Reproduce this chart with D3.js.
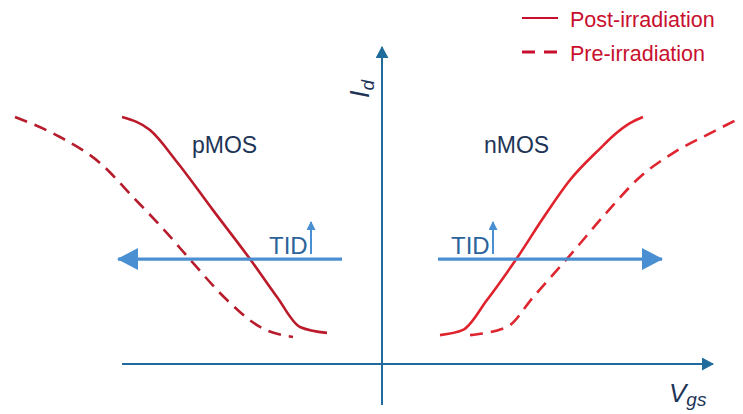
<!DOCTYPE html>
<html>
<head>
<meta charset="utf-8">
<script src="https://cdn.jsdelivr.net/npm/d3@7"></script>
<style>
  body { margin: 0; background: #fff; }
  svg { display: block; }
</style>
</head>
<body>
<div id="chart"></div>
<script>
(function () {

  // Curves (Vgs in arbitrary volts, Id normalised to saturation)
  const pmosPostVgs = [-2.60, -2.32, -2.05, -1.69, -1.32, -1.05, -0.82, -0.55]
  const pmosPostId  = [1.00, 0.947, 0.818, 0.623, 0.425, 0.271, 0.150, 0.126]
  const pmosPreVgs  = [-3.67, -3.22, -2.82, -2.49, -2.15, -1.89, -1.55, -1.22, -0.89]
  const pmosPreId   = [1.00, 0.919, 0.814, 0.676, 0.530, 0.409, 0.259, 0.150, 0.109]
  const nmosPostVgs = [0.58, 0.81, 1.05, 1.35, 1.61, 1.88, 2.18, 2.33, 2.48, 2.61]
  const nmosPostId  = [0.117, 0.138, 0.259, 0.429, 0.590, 0.745, 0.872, 0.930, 0.975, 1.00]
  const nmosPreVgs  = [0.88, 1.25, 1.51, 1.88, 2.25, 2.58, 2.91, 3.31, 3.58]
  const nmosPreId   = [0.117, 0.150, 0.270, 0.440, 0.615, 0.757, 0.854, 0.940, 0.996]

  // TID shift arrows: [from, to] in Vgs, at one Id level
  const tidLevel = 0.425
  const pmosShift = [-0.40, -2.64]
  const nmosShift = [0.56, 2.80]

  // Axis extents
  const vgsAxis = [-2.60, 3.31]
  const idAxis = [-0.166, 1.283]

  const legendLabels = ["Post-irradiation", "Pre-irradiation"]

  const width = 743
  const height = 414

  const x = d3.scaleLinear().domain([-3.82, 3.61]).range([0, width])
  const y = d3.scaleLinear().domain([0, 1]).range([364, 117])

  const svg = d3.select("#chart").append("svg")
      .attr("width", width)
      .attr("height", height)

  const defs = svg.append("defs")
  function marker(id, len, half, color) {
    defs.append("marker")
      .attr("id", id)
      .attr("markerUnits", "userSpaceOnUse")
      .attr("viewBox", `0 ${-half} ${len} ${half * 2}`)
      .attr("refX", len - 1)
      .attr("refY", 0)
      .attr("markerWidth", len)
      .attr("markerHeight", half * 2)
      .attr("orient", "auto")
      .append("path")
      .attr("d", `M0,${-half}L${len},0L0,${half}Z`)
      .attr("fill", color)
  }
  const axisColor = "#1f6b9c"
  const arrowColor = "#4a8fd1"
  marker("axisHead", 12, 6.5, axisColor)
  marker("bigHead", 21, 11, arrowColor)
  marker("smallHead", 9, 4.5, arrowColor)

  // Axes
  svg.append("line")
    .attr("x1", x(vgsAxis[0])).attr("x2", x(vgsAxis[1]))
    .attr("y1", y(0)).attr("y2", y(0))
    .attr("stroke", axisColor).attr("stroke-width", 2)
    .attr("marker-end", "url(#axisHead)")
  svg.append("line")
    .attr("x1", x(0)).attr("x2", x(0))
    .attr("y1", y(idAxis[0])).attr("y2", y(idAxis[1]))
    .attr("stroke", axisColor).attr("stroke-width", 2)
    .attr("marker-end", "url(#axisHead)")

  // Axis labels
  const idLabel = svg.append("text")
    .attr("transform", `translate(${x(0) - 13},98) rotate(-90)`)
    .attr("font-family", "Liberation Sans, Arial, sans-serif")
    .attr("font-style", "italic")
    .attr("font-size", 27)
    .attr("fill", "#1e3557")
  idLabel.append("tspan").text("I")
  idLabel.append("tspan").attr("font-size", 19).attr("dy", 5).text("d")

  const vLabel = svg.append("text")
    .attr("x", 669).attr("y", 402)
    .attr("font-family", "Liberation Sans, Arial, sans-serif")
    .attr("font-style", "italic")
    .attr("font-size", 26)
    .attr("fill", "#1e3557")
  vLabel.append("tspan").text("V")
  vLabel.append("tspan").attr("font-size", 19).attr("dy", 4).text("gs")

  // Curves
  const line = d3.line()
    .x(d => x(d[0]))
    .y(d => y(d[1]))
    .curve(d3.curveMonotoneX)

  const curves = [
    { vgs: pmosPreVgs, id: pmosPreId, color: "#b71c2c", dash: "13,8" },
    { vgs: pmosPostVgs, id: pmosPostId, color: "#bb1a2a", dash: null },
    { vgs: nmosPreVgs, id: nmosPreId, color: "#de2530", dash: "13,8" },
    { vgs: nmosPostVgs, id: nmosPostId, color: "#e0222c", dash: null }
  ]
  svg.selectAll(".curve")
    .data(curves)
    .join("path")
    .attr("class", "curve")
    .attr("d", c => line(d3.zip(c.vgs, c.id)))
    .attr("fill", "none")
    .attr("stroke", c => c.color)
    .attr("stroke-width", 2.6)
    .attr("stroke-dasharray", c => c.dash)

  // TID arrows
  ;[pmosShift, nmosShift].forEach(s => {
    svg.append("line")
      .attr("x1", x(s[0])).attr("x2", x(s[1]))
      .attr("y1", y(tidLevel)).attr("y2", y(tidLevel))
      .attr("stroke", arrowColor).attr("stroke-width", 3.2)
      .attr("marker-end", "url(#bigHead)")
  })

  const tid = [
    { x: 269, up: 311 },
    { x: 451, up: 493 }
  ]
  tid.forEach(t => {
    svg.append("text")
      .attr("x", t.x).attr("y", 254)
      .attr("font-family", "Liberation Sans, Arial, sans-serif")
      .attr("font-size", 24)
      .attr("fill", "#2b639b")
      .text("TID")
    svg.append("line")
      .attr("x1", t.up).attr("x2", t.up)
      .attr("y1", 254).attr("y2", 222)
      .attr("stroke", arrowColor).attr("stroke-width", 2)
      .attr("marker-end", "url(#smallHead)")
  })

  // Device labels
  svg.append("text")
    .attr("x", 192).attr("y", 153)
    .attr("font-family", "Liberation Sans, Arial, sans-serif")
    .attr("font-size", 23)
    .attr("fill", "#1e3557")
    .text("pMOS")
  svg.append("text")
    .attr("x", 484).attr("y", 153)
    .attr("font-family", "Liberation Sans, Arial, sans-serif")
    .attr("font-size", 23)
    .attr("fill", "#1e3557")
    .text("nMOS")

  // Legend
  const legend = svg.append("g")
  legendLabels.forEach((lab, i) => {
    const ly = 18 + i * 34
    legend.append("line")
      .attr("x1", 522).attr("x2", 558)
      .attr("y1", ly).attr("y2", ly)
      .attr("stroke", "#c8102e")
      .attr("stroke-width", i === 0 ? 2 : 3)
      .attr("stroke-dasharray", i === 0 ? null : "13,9")
    legend.append("text")
      .attr("x", 570).attr("y", ly + 9)
      .attr("font-family", "Liberation Sans, Arial, sans-serif")
      .attr("font-size", 21.5)
      .attr("fill", "#c8102e")
      .text(lab)
  })

})();
</script>
</body>
</html>
